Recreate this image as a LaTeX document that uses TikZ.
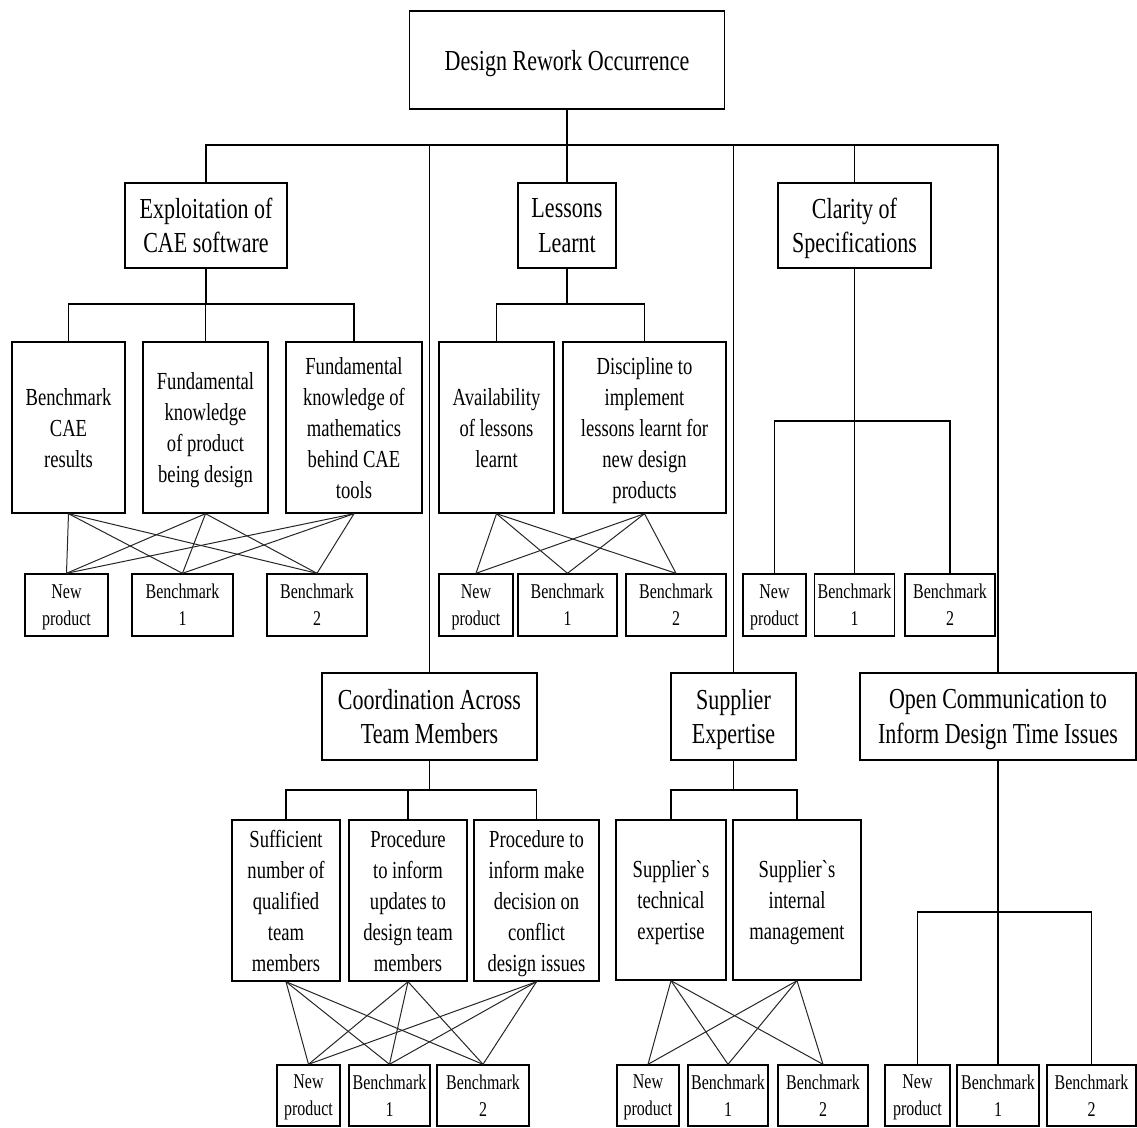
\documentclass[tikz,border=0pt]{standalone}
\usepackage{fontspec}
\newfontfamily\dfont{Liberation Serif}[FakeStretch=0.76]
\newcommand\topfont{\dfont\fontsize{29}{34.5}\selectfont}
\newcommand\midfont{\dfont\fontsize{24.5}{31}\selectfont}
\newcommand\leaffont{\dfont\fontsize{21}{27}\selectfont}
\begin{document}
\begin{tikzpicture}[x=1pt,y=-1pt,
  box/.style={draw, line width=1.4pt, inner sep=0pt, align=center, text depth=0pt},
  sz/.style 2 args={minimum width=#1pt, minimum height=#2pt},
  head/.style={box, font=\topfont},
  factor/.style={box, font=\midfont},
  leaf/.style={box, font=\leaffont},
  tree/.style={line width=1.3pt},
  link/.style={line width=1pt, black!85}]
\useasboundingbox (0,0) rectangle (1137,1127);

% ---- root and main factors ----
\node[head, sz={315}{98}] (root) at (567,60) {Design Rework Occurrence};
\node[head, sz={162}{85}] (exp) at (206,225.5) {Exploitation of\\CAE software};
\node[head, sz={98}{85}]  (les) at (567,225.5) {Lessons\\Learnt};
\node[head, sz={153}{85}] (cla) at (854.5,225.5) {Clarity of\\Specifications};
\node[head, sz={215}{87}] (coo) at (429.5,716.5) {Coordination Across\\Team Members};
\node[head, sz={125}{87}] (sup) at (733.5,716.5) {Supplier\\Expertise};
\node[head, sz={276}{87}] (ope) at (998,716.5) {Open Communication to\\Inform Design Time Issues};

\coordinate (bus) at (0,145);
\draw[tree] (exp.north) |- (ope.north |- bus) -- (ope.north);
\draw[line width=2.2pt] (root.south |- bus) -- (ope.north |- bus);
\draw[tree] (root.south) -- (root.south |- bus);
\draw[tree] (les.north) -- (les.north |- bus);
\draw[tree] (cla.north) -- (cla.north |- bus);
\draw[tree] (coo.north) -- (coo.north |- bus);
\draw[tree] (sup.north) -- (sup.north |- bus);

% ---- CAE software ----
\node[factor, sz={113}{171}] (e1) at (68.5,427.5) {Benchmark\\CAE\\results};
\node[factor, sz={125}{171}] (e2) at (205.5,427.5) {Fundamental\\knowledge\\of product\\being design};
\node[factor, sz={136}{171}] (e3) at (354,427.5) {Fundamental\\knowledge of\\mathematics\\behind CAE\\tools};
\node[leaf, sz={83}{62}]  (e-np) at (66.5,605) {New\\product};
\node[leaf, sz={101}{62}] (e-b1) at (182.5,605) {Benchmark\\1};
\node[leaf, sz={100}{62}] (e-b2) at (317,605) {Benchmark\\2};
\draw[tree] (exp.south) -- (exp.south |- 0,304);
\draw[tree] (e1.north) |- (e3.north |- 0,304) -- (e3.north);
\draw[tree] (e2.north) -- (e2.north |- 0,304);

% ---- Lessons learnt ----
\node[factor, sz={115}{171}] (l1) at (496.5,427.5) {Availability\\of lessons\\learnt};
\node[factor, sz={163}{171}] (l2) at (644.5,427.5) {Discipline to\\implement\\lessons learnt for\\new design\\products};
\node[leaf, sz={74}{62}]  (l-np) at (476,605) {New\\product};
\node[leaf, sz={99}{62}]  (l-b1) at (567.5,605) {Benchmark\\1};
\node[leaf, sz={100}{62}] (l-b2) at (676,605) {Benchmark\\2};
\draw[tree] (les.south) -- (les.south |- 0,304);
\draw[tree] (l1.north) |- (l2.north |- 0,304) -- (l2.north);

% ---- Clarity of specifications ----
\node[leaf, sz={63}{62}] (c-np) at (774.5,605) {New\\product};
\node[leaf, sz={80}{62}] (c-b1) at (854.5,605) {Benchmark\\1};
\node[leaf, sz={90}{62}] (c-b2) at (950,605) {Benchmark\\2};
\draw[tree] (cla.south) -- (c-b1.north);
\draw[tree] (c-np.north) |- (c-b2.north |- 0,421) -- (c-b2.north);

% ---- Coordination across team members ----
\node[factor, sz={108}{161}] (k1) at (286,900.5) {Sufficient\\number of\\qualified\\team\\members};
\node[factor, sz={118}{161}] (k2) at (408,900.5) {Procedure\\to inform\\updates to\\design team\\members};
\node[factor, sz={125}{161}] (k3) at (536.5,900.5) {Procedure to\\inform make\\decision on\\conflict\\design issues};
\node[leaf, sz={63}{61}] (k-np) at (308.5,1095.5) {New\\product};
\node[leaf, sz={81}{61}] (k-b1) at (389.5,1095.5) {Benchmark\\1};
\node[leaf, sz={92}{61}] (k-b2) at (483,1095.5) {Benchmark\\2};
\draw[tree] (coo.south) -- (coo.south |- 0,790);
\draw[tree] (k1.north) |- (k3.north |- 0,790) -- (k3.north);
\draw[tree] (k2.north) -- (k2.north |- 0,790);

% ---- Supplier expertise ----
\node[factor, sz={110}{160}] (s1) at (671,900) {Supplier`s\\technical\\expertise};
\node[factor, sz={128}{160}] (s2) at (797,900) {Supplier`s\\internal\\management};
\node[leaf, sz={62}{61}] (s-np) at (648,1095.5) {New\\product};
\node[leaf, sz={80}{61}] (s-b1) at (728,1095.5) {Benchmark\\1};
\node[leaf, sz={90}{61}] (s-b2) at (823,1095.5) {Benchmark\\2};
\draw[tree] (sup.south) -- (sup.south |- 0,790);
\draw[tree] (s1.north) |- (s2.north |- 0,790) -- (s2.north);

% ---- Open communication ----
\node[leaf, sz={65}{61}] (o-np) at (917.5,1095.5) {New\\product};
\node[leaf, sz={82}{61}] (o-b1) at (998,1095.5) {Benchmark\\1};
\node[leaf, sz={89}{61}] (o-b2) at (1091.5,1095.5) {Benchmark\\2};
\draw[tree] (ope.south) -- (o-b1.north);
\draw[tree] (o-np.north) |- (o-b2.north |- 0,912) -- (o-b2.north);

% ---- factor-to-product links ----
\foreach \a in {e1,e2,e3} \foreach \b in {e-np,e-b1,e-b2} \draw[link] (\a.south) -- (\b.north);
\foreach \a in {l1,l2} \foreach \b in {l-np,l-b1,l-b2} \draw[link] (\a.south) -- (\b.north);
\foreach \a in {k1,k2,k3} \foreach \b in {k-np,k-b1,k-b2} \draw[link] (\a.south) -- (\b.north);
\foreach \a in {s1,s2} \foreach \b in {s-np,s-b1,s-b2} \draw[link] (\a.south) -- (\b.north);
\end{tikzpicture}
\end{document}
